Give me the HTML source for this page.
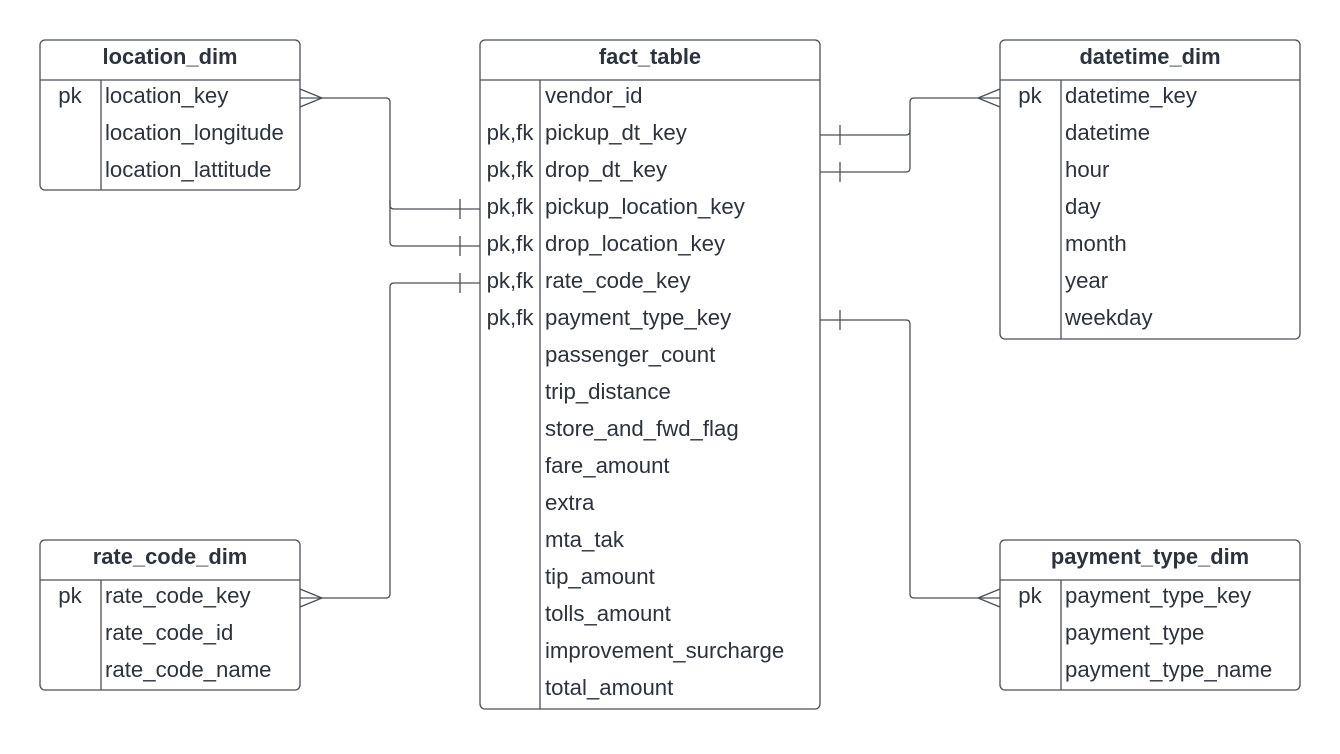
<!DOCTYPE html>
<html><head><style>
body{margin:0;background:#fff}
svg text{font-family:"Liberation Sans",sans-serif;fill:#2d333d;font-size:22.2px}
.h{font-weight:bold;text-anchor:middle;font-size:21.9px}
.c{text-anchor:middle}
</style></head><body>
<svg width="1340" height="749" viewBox="0 0 1340 749" xmlns="http://www.w3.org/2000/svg">
<g fill="none" stroke="#4a4f57" stroke-width="1.3">
<rect x="40" y="40" width="260" height="150" rx="5"/><line x1="40" y1="80" x2="300" y2="80"/><line x1="101" y1="80" x2="101" y2="190"/>
<rect x="40" y="540" width="260" height="150" rx="5"/><line x1="40" y1="580" x2="300" y2="580"/><line x1="101" y1="580" x2="101" y2="690"/>
<rect x="480" y="40" width="340" height="669" rx="5"/><line x1="480" y1="80" x2="820" y2="80"/><line x1="540" y1="80" x2="540" y2="709"/>
<rect x="1000" y="40" width="300" height="299" rx="5"/><line x1="1000" y1="80" x2="1300" y2="80"/><line x1="1061" y1="80" x2="1061" y2="339"/>
<rect x="1000" y="540" width="300" height="150" rx="5"/><line x1="1000" y1="580" x2="1300" y2="580"/><line x1="1061" y1="580" x2="1061" y2="690"/>
<path d="M300 98 H386 Q390 98 390 102 V205 Q390 209 394 209 H480"/>
<path d="M390 200 V242 Q390 246 394 246 H480"/>
<path d="M300 89 L322 98 L300 107"/>
<line x1="460" y1="199" x2="460" y2="219"/><line x1="460" y1="236" x2="460" y2="256"/>
<path d="M300 598 H386 Q390 598 390 594 V287 Q390 283 394 283 H480"/>
<path d="M300 589 L322 598 L300 607"/>
<line x1="460" y1="273" x2="460" y2="293"/>
<path d="M820 135 H906 Q910 135 910 131 V102 Q910 98 914 98 H1000"/>
<path d="M820 172 H906 Q910 172 910 168 V130"/>
<path d="M1000 89 L978 98 L1000 107"/>
<line x1="840" y1="125" x2="840" y2="145"/><line x1="840" y1="162" x2="840" y2="182"/>
<path d="M820 320 H906 Q910 320 910 324 V594 Q910 598 914 598 H1000"/>
<path d="M1000 589 L978 598 L1000 607"/>
<line x1="840" y1="310" x2="840" y2="330"/>
</g>
<text class="h" x="170" y="64">location_dim</text>
<text class="c" x="70" y="103">pk</text>
<text x="105" y="103">location_key</text><text x="105" y="140">location_longitude</text><text x="105" y="177">location_lattitude</text>
<text class="h" x="170" y="564">rate_code_dim</text>
<text class="c" x="70" y="603">pk</text>
<text x="105" y="603">rate_code_key</text><text x="105" y="640">rate_code_id</text><text x="105" y="677">rate_code_name</text>
<text class="h" x="650" y="64">fact_table</text>
<g>
<text x="545" y="103">vendor_id</text>
<text class="c" x="510" y="140">pk,fk</text><text x="545" y="140">pickup_dt_key</text>
<text class="c" x="510" y="177">pk,fk</text><text x="545" y="177">drop_dt_key</text>
<text class="c" x="510" y="214">pk,fk</text><text x="545" y="214">pickup_location_key</text>
<text class="c" x="510" y="251">pk,fk</text><text x="545" y="251">drop_location_key</text>
<text class="c" x="510" y="288">pk,fk</text><text x="545" y="288">rate_code_key</text>
<text class="c" x="510" y="325">pk,fk</text><text x="545" y="325">payment_type_key</text>
<text x="545" y="362">passenger_count</text>
<text x="545" y="399">trip_distance</text>
<text x="545" y="436">store_and_fwd_flag</text>
<text x="545" y="473">fare_amount</text>
<text x="545" y="510">extra</text>
<text x="545" y="547">mta_tak</text>
<text x="545" y="584">tip_amount</text>
<text x="545" y="621">tolls_amount</text>
<text x="545" y="658">improvement_surcharge</text>
<text x="545" y="695">total_amount</text>
</g>
<text class="h" x="1150" y="64">datetime_dim</text>
<text class="c" x="1030" y="103">pk</text>
<text x="1065" y="103">datetime_key</text><text x="1065" y="140">datetime</text><text x="1065" y="177">hour</text><text x="1065" y="214">day</text><text x="1065" y="251">month</text><text x="1065" y="288">year</text><text x="1065" y="325">weekday</text>
<text class="h" x="1150" y="564">payment_type_dim</text>
<text class="c" x="1030" y="603">pk</text>
<text x="1065" y="603">payment_type_key</text><text x="1065" y="640">payment_type</text><text x="1065" y="677">payment_type_name</text>
</svg>
</body></html>
